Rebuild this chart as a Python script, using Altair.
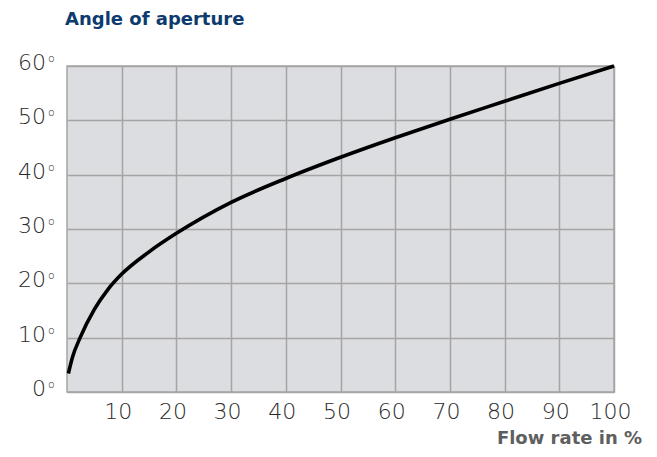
import altair as alt
import pandas as pd

flow = [0.25, 1, 2.4, 5, 7.5, 10, 15, 20, 30, 40, 50, 60, 70, 80, 90, 100]
angle = [3.4, 6.4, 10, 15.2, 18.9, 21.7, 25.8, 29.2, 34.9, 39.3, 43.2, 46.8, 50.2, 53.5, 56.8, 60]
x_ticks = [10, 20, 30, 40, 50, 60, 70, 80, 90, 100]
y_ticks = [0, 10, 20, 30, 40, 50, 60]

curve = pd.DataFrame({"flow": flow, "angle": angle})
ylab = pd.DataFrame({"v": y_ticks, "t": [str(v) for v in y_ticks], "o": ["o"] * len(y_ticks)})

xs = alt.Scale(domain=[0, 100], nice=False)
ys = alt.Scale(domain=[0, 60], nice=False)

LIGHT = "DejaVu Sans"

line = alt.Chart(curve).mark_line(color="black", strokeWidth=3.6, interpolate="monotone").encode(
    x=alt.X("flow:Q", scale=xs, axis=alt.Axis(
        values=x_ticks, title=None, domain=False, ticks=False, grid=True,
        gridColor="#a5a5a5", gridWidth=1.5, labelFont=LIGHT, labelFontSize=22,
        labelFontWeight=200, labelColor="#2a2a2a", labelPadding=9, labelOffset=-4,
        labelOverlap=False, labelBound=False, labelFlush=False)),
    y=alt.Y("angle:Q", scale=ys, axis=alt.Axis(
        values=y_ticks, title=None, domain=False, ticks=False, grid=True,
        gridColor="#a5a5a5", gridWidth=1.5, labels=False)),
)

nums = alt.Chart(ylab).mark_text(align="right", baseline="middle", font=LIGHT,
                                 fontSize=22, fontWeight=200, color="#2a2a2a", dy=-3).encode(
    y=alt.Y("v:Q", scale=ys), x=alt.value(-21), text="t:N")
sups = alt.Chart(ylab).mark_text(align="left", baseline="middle", font=LIGHT,
                                 fontSize=11, fontWeight=200, color="#2a2a2a", dy=-7).encode(
    y=alt.Y("v:Q", scale=ys), x=alt.value(-19), text="o:N")

xtitle = alt.Chart(pd.DataFrame({"t": ["Flow rate in %"]})).mark_text(
    align="right", baseline="middle", font="DejaVu Sans", fontSize=18,
    fontWeight="bold", color="#5f5f5f").encode(
    x=alt.value(575), y=alt.value(373), text="t:N")

title = alt.Chart(pd.DataFrame({"t": ["Angle of aperture"]})).mark_text(
    align="left", baseline="middle", font="DejaVu Sans", fontSize=18,
    fontWeight="bold", color="#0d3b6e").encode(
    x=alt.value(-2), y=alt.value(-46), text="t:N")

chart = alt.layer(line, nums, sups, xtitle, title).properties(
    width=547, height=326,
    background="white",
    autosize=alt.AutoSizeParams(type="none"),
    padding={"left": 59, "top": 58, "right": 35, "bottom": 57},
).configure_view(fill="#dcdde0", stroke="#a5a5a5", strokeWidth=1.5)

chart.save("out.html", embed_options={"renderer": "svg", "actions": False})
